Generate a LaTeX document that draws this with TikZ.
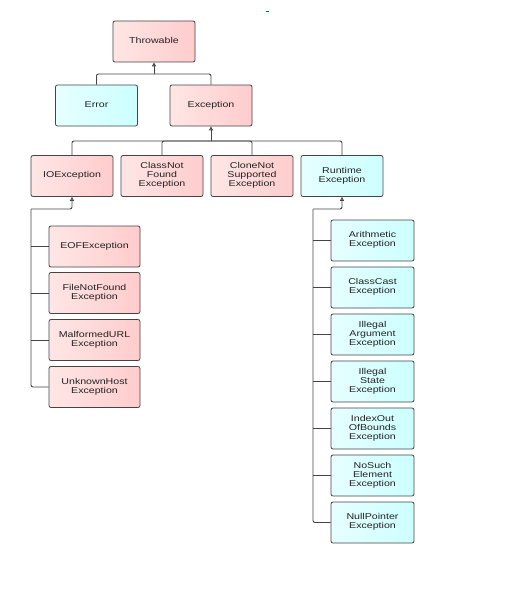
\documentclass[tikz,border=0pt]{standalone}
\usepackage{fontspec}
\setmainfont{Liberation Sans}
\usepackage{graphicx}
\usetikzlibrary{arrows.meta}
\definecolor{pinkA}{HTML}{FFE6E6}
\definecolor{pinkB}{HTML}{FFCCCC}
\definecolor{cyanA}{HTML}{E6FFFF}
\definecolor{cyanB}{HTML}{CCFFFF}
\definecolor{edge}{HTML}{444444}
\definecolor{ink}{HTML}{222222}
\newcommand{\lbl}[1]{\scalebox{1.25}[1]{\fontsize{8.5}{9}\selectfont\begin{tabular}{@{}c@{}}#1\end{tabular}}}
\tikzset{
  box/.style={rectangle, rounded corners=2pt, draw=edge, line width=0.8pt,
    minimum width=82pt, minimum height=41pt, inner sep=0pt, text=ink, shading angle=45},
  pk/.style={box, left color=pinkA, right color=pinkB},
  cy/.style={box, left color=cyanA, right color=cyanB},
  wide/.style={minimum width=91pt},
  rw/.style={minimum width=83pt},
  conn/.style={draw=edge, line width=0.9pt, rounded corners=2pt},
  arr/.style={conn, -{Triangle[open, width=4pt, length=4pt]}}
}
\begin{document}
\begin{tikzpicture}[x=1pt, y=-1pt]
\useasboundingbox (0,0) rectangle (531,602);
\fill[white] (0,0) rectangle (531,602);
\draw[teal!70!blue, line width=1pt] (266,12) -- (269,12);

\node[pk] (thr) at (154,41.5) {\lbl{Throwable}};
\node[cy] (err) at (96.5,105.5) {\lbl{Error}};
\node[pk] (exc) at (211,105.5) {\lbl{Exception}};

\node[pk] (io) at (72,176) {\lbl{IOException}};
\node[pk] (cnf) at (162,176) {\lbl{ClassNot\\Found\\Exception}};
\node[pk] (cns) at (252,176) {\lbl{CloneNot\\Supported\\Exception}};
\node[cy] (rt) at (342,176) {\lbl{Runtime\\Exception}};

\node[pk,wide] (eof) at (94.5,246.5) {\lbl{EOFException}};
\node[pk,wide] (fnf) at (94.5,293) {\lbl{FileNotFound\\Exception}};
\node[pk,wide] (mal) at (94.5,340) {\lbl{MalformedURL\\Exception}};
\node[pk,wide] (unk) at (94.5,387) {\lbl{UnknownHost\\Exception}};

\node[cy,rw] (ari) at (372.5,240.5) {\lbl{Arithmetic\\Exception}};
\node[cy,rw] (cc) at (372.5,287.5) {\lbl{ClassCast\\Exception}};
\node[cy,rw] (ia) at (372.5,334.5) {\lbl{Illegal\\Argument\\Exception}};
\node[cy,rw] (is) at (372.5,381.5) {\lbl{Illegal\\State\\Exception}};
\node[cy,rw] (ioob) at (372.5,428.5) {\lbl{IndexOut\\OfBounds\\Exception}};
\node[cy,rw] (nse) at (372.5,475.5) {\lbl{NoSuch\\Element\\Exception}};
\node[cy,rw] (np) at (372.5,522.5) {\lbl{NullPointer\\Exception}};

\coordinate (j1) at (154,74);
\coordinate (j2) at (211,141);
\coordinate (tL) at (31,209);
\coordinate (tR) at (313,209);

\draw[conn] (err.north) |- (j1);
\draw[conn] (exc.north) |- (j1);
\draw[arr] (j1) -- (thr.south);

\draw[conn] (io.north) |- (j2);
\draw[conn] (cnf.north) |- (j2);
\draw[conn] (cns.north) |- (j2);
\draw[conn] (rt.north) |- (j2);
\draw[arr] (j2) -- (exc.south);

\draw[conn] (unk.west) -| (tL);
\draw[arr] (tL) -| (io.south);
\foreach \n in {eof,fnf,mal} \draw[conn] (\n.west) -- (\n.west -| tL);

\draw[conn] (np.west) -| (tR);
\draw[arr] (tR) -| (rt.south);
\foreach \n in {ari,cc,ia,is,ioob,nse} \draw[conn] (\n.west) -- (\n.west -| tR);
\end{tikzpicture}
\end{document}
